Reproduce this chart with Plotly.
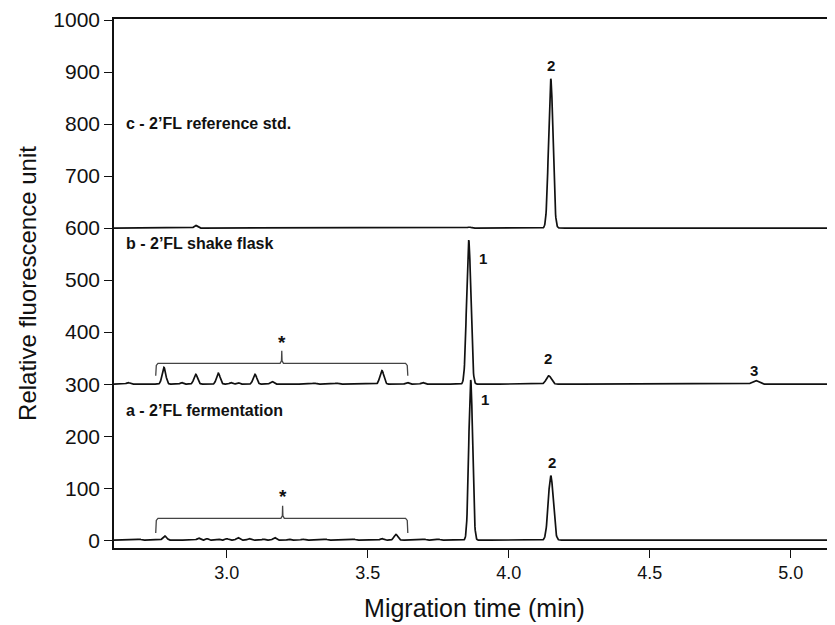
import numpy as np
import plotly.graph_objects as go

# ---- data (peak tables: time [min], height [RFU], sigma [min]) ----
baseline_a, baseline_b, baseline_c = 0, 300, 600

a_times   = [2.69, 2.78, 2.90, 2.93, 2.97, 3.00, 3.04, 3.08, 3.13, 3.17, 3.22, 3.27, 3.35, 3.45, 3.55, 3.60, 3.70, 3.75, 3.865, 4.149]
a_heights = [2,    8,    4,    3,    2,    3,    5,    3,    2,    5,    2,    2,    2,    2,    3,    11,   2,    2,    308,   124]
a_sigmas  = [0.006, 0.007, 0.006, 0.005, 0.005, 0.006, 0.006, 0.006, 0.005, 0.006, 0.005, 0.006, 0.006, 0.006, 0.006, 0.007, 0.006, 0.006, 0.0068, 0.0088]

b_times   = [2.65, 2.777, 2.84, 2.89, 2.97, 3.015, 3.04, 3.10, 3.16, 3.31, 3.39, 3.55, 3.64, 3.695, 3.858, 4.142, 4.875]
b_heights = [3,    32,    3,    19,   21,   3,     3,    19,   5,    2,    2,    26,   3,    3,     277,   16,    7]
b_sigmas  = [0.006, 0.0065, 0.005, 0.0065, 0.0065, 0.005, 0.005, 0.0065, 0.006, 0.006, 0.006, 0.007, 0.006, 0.006, 0.0075, 0.009, 0.011]

c_times   = [2.89, 3.86, 4.149]
c_heights = [5,    2,    287]
c_sigmas  = [0.006, 0.006, 0.0078]

# brackets: start, end, level, end-drop, spike position, spike top
bracket_start = [2.748, 2.748]
bracket_end   = [3.642, 3.642]
bracket_level = [340, 42]
bracket_foot  = [316, 14]
bracket_mid   = [3.195, 3.198]
bracket_tip   = [364, 66]

trace_labels = ["c - 2\u2019FL reference std.", "b - 2\u2019FL shake flask", "a - 2\u2019FL fermentation"]
trace_label_y = [802, 570, 250]

peak_label_text = ["2", "1", "2", "3", "1", "2"]
peak_label_x    = [4.149, 3.908, 4.138, 4.869, 3.915, 4.152]
peak_label_y    = [913, 542, 350, 327, 271, 150]

star_x = [3.195, 3.198]
star_y = [380, 84]

x_ticks = [3.0, 3.5, 4.0, 4.5, 5.0]
y_ticks = [0, 100, 200, 300, 400, 500, 600, 700, 800, 900, 1000]

# ---- build traces ----
t = np.arange(2.60, 5.18, 0.001)

def chrom(base, times, heights, sigmas):
    y = np.full_like(t, float(base))
    for tm, h, s in zip(times, heights, sigmas):
        y += h * np.exp(-0.5 * ((t - tm) / s) ** 2)
    return y

fig = go.Figure()
line = dict(color="#111111", width=1.7)
for base, tt, hh, ss in [(baseline_a, a_times, a_heights, a_sigmas),
                         (baseline_b, b_times, b_heights, b_sigmas),
                         (baseline_c, c_times, c_heights, c_sigmas)]:
    fig.add_trace(go.Scatter(x=t, y=chrom(base, tt, hh, ss), mode="lines", line=line,
                             showlegend=False, hoverinfo="skip"))

for s, e, lv, ft, m, tip in zip(bracket_start, bracket_end, bracket_level, bracket_foot, bracket_mid, bracket_tip):
    bx = [s, s + 0.002, s + 0.008, m - 0.006, m - 0.001, m, m + 0.001, m + 0.006, e - 0.008, e - 0.002, e]
    by = [ft, lv - 4, lv, lv, lv + 5, tip, lv + 5, lv, lv, lv - 4, ft]
    fig.add_trace(go.Scatter(x=bx, y=by, mode="lines", line=dict(color="#444444", width=1.3),
                             showlegend=False, hoverinfo="skip"))

for txt, yv in zip(trace_labels, trace_label_y):
    fig.add_annotation(x=2.636, y=yv, text="<b>" + txt + "</b>", showarrow=False,
                       xanchor="left", yanchor="middle",
                       font=dict(family="Liberation Sans", size=16, color="#111111"))

for txt, xv, yv in zip(peak_label_text, peak_label_x, peak_label_y):
    fig.add_annotation(x=xv, y=yv, text="<b>" + txt + "</b>", showarrow=False,
                       xanchor="center", yanchor="middle",
                       font=dict(family="Liberation Sans", size=15, color="#111111"))

for xv, yv in zip(star_x, star_y):
    fig.add_annotation(x=xv, y=yv, text="<b>*</b>", showarrow=False,
                       xanchor="center", yanchor="middle",
                       font=dict(family="Liberation Sans", size=19, color="#111111"))

# page body adds an 8 px offset, so the figure is sized to fill the rest of the 835x625 window
fig.update_layout(
    width=827, height=617,
    margin=dict(l=106, r=0, t=11, b=77, autoexpand=False),
    paper_bgcolor="white", plot_bgcolor="white",
    font=dict(family="Liberation Sans", color="#111111"),
    xaxis=dict(range=[2.60, 5.157], tickvals=x_ticks, ticktext=["%.1f" % v for v in x_ticks],
               automargin=False,
               showgrid=False, zeroline=False, showline=True, linecolor="#111111", linewidth=1.6,
               mirror=True, ticks="outside", ticklen=8, tickwidth=1.3, tickcolor="#111111",
               tickfont=dict(size=18), title=dict(text="Migration time (min)", font=dict(size=25), standoff=17)),
    yaxis=dict(range=[-15, 1002], tickvals=y_ticks, showgrid=False, zeroline=False, showline=True,
               automargin=False,
               linecolor="#111111", linewidth=1.6, ticks="outside", ticklen=8, tickwidth=1.3,
               tickcolor="#111111", tickfont=dict(size=21),
               title=dict(text="Relative fluorescence unit", font=dict(size=24), standoff=10)),
)

fig.write_html("out.html")
